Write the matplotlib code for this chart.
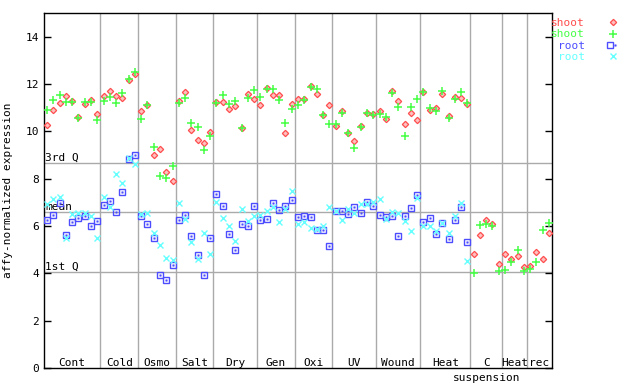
import numpy as np
import matplotlib
matplotlib.use("Agg")
import matplotlib.pyplot as plt
from matplotlib.legend_handler import HandlerTuple

plt.rcParams['font.family'] = ['DejaVu Sans Mono']

# grupos de condiciones y numero de muestras por grupo
grupos = ["Cont", "Cold", "Osmo", "Salt", "Dry", "Gen", "Oxi", "UV", "Wound", "Heat", "C", "Heat", "rec"]
n_muestras = [9, 6, 6, 6, 7, 6, 6, 7, 7, 8, 5, 4, 4]

# shoot (rojo)
shoot1 = [10.27, 10.90, 11.21, 11.51, 11.27, 10.60, 11.17, 11.31, 10.74,
          11.51, 11.70, 11.51, 11.41, 12.17, 12.42,
          10.86, 11.11, 9.00, 9.25, 8.28, 7.90,
          11.28, 11.66, 10.05, 9.63, 9.50, 9.98,
          11.24, 11.24, 10.94, 11.07, 10.14, 11.59, 11.37,
          11.11, 11.84, 11.54, 11.54, 9.93, 11.15,
          11.37, 11.37, 11.90, 11.57, 10.69, 11.11,
          10.22, 10.86, 9.93, 9.59, 10.22, 10.77, 10.73,
          10.86, 10.52, 11.70, 11.28, 10.31, 10.77, 10.48,
          11.66, 10.90, 10.98, 11.57, 10.65, 11.45, 11.41, 11.15,
          4.81, 5.61, 6.25, 6.08, 4.39,
          4.81, 4.60, 4.72, 4.26,
          4.30, 4.89, 4.60, 5.70]

# shoot (verde)
shoot2 = [10.90, 11.32, 11.55, 11.24, 11.22, 10.58, 11.24, 11.24, 10.48,
          11.28, 11.45, 11.21, 11.62, 12.20, 12.51,
          10.52, 11.11, 9.33, 8.11, 8.02, 8.53,
          11.21, 11.41, 10.36, 10.17, 9.21, 9.80,
          11.21, 11.54, 11.15, 11.28, 10.14, 11.41, 11.75,
          11.45, 11.80, 11.77, 11.32, 10.35, 10.94,
          11.11, 11.32, 11.87, 11.79, 10.69, 10.31,
          10.31, 10.77, 9.93, 9.29, 10.18, 10.77, 10.69,
          10.73, 10.60, 11.62, 11.03, 9.80, 11.03, 11.37,
          11.66, 10.98, 10.86, 11.70, 10.56, 11.37, 11.66, 11.20,
          4.01, 6.04, 6.08, 5.99, 4.09,
          4.13, 4.47, 4.98, 4.09,
          4.17, 4.47, 5.82, 6.12]

# root (azul) - solo hasta Heat
root1 = [6.25, 6.46, 6.97, 5.61, 6.16, 6.35, 6.42, 5.99, 6.21,
         6.88, 7.05, 6.59, 7.43, 8.85, 9.00,
         6.42, 6.08, 5.49, 3.92, 3.71, 4.34,
         6.25, 6.46, 5.57, 4.77, 3.92, 5.49,
         7.35, 6.84, 5.66, 4.98, 6.08, 5.99, 6.84,
         6.25, 6.29, 6.97, 6.67, 6.84, 7.09,
         6.37, 6.42, 6.37, 5.84, 5.83, 5.15,
         6.63, 6.63, 6.50, 6.80, 6.54, 7.01, 6.84,
         6.46, 6.37, 6.42, 5.57, 6.42, 6.75, 7.30,
         6.16, 6.33, 5.66, 6.12, 5.44, 6.25, 6.80, 5.32]

# root (cian)
root2 = [6.92, 7.14, 7.22, 5.49, 6.50, 6.54, 6.54, 6.42, 5.49,
         7.23, 6.80, 8.19, 7.83, 8.88, 8.62,
         6.50, 6.54, 5.70, 5.19, 4.64, 4.56,
         6.97, 6.29, 5.32, 4.60, 5.70, 4.81,
         7.01, 6.33, 5.99, 5.36, 6.71, 6.21, 6.42,
         6.46, 6.63, 6.80, 6.16, 6.71, 7.47,
         6.08, 6.16, 5.91, 5.87, 5.99, 6.80,
         6.63, 6.25, 6.71, 6.54, 6.92, 6.92, 7.01,
         7.14, 6.29, 6.59, 6.54, 6.21, 5.78, 7.18,
         5.99, 5.99, 5.78, 6.12, 5.70, 6.42, 6.97, 4.51]

# lineas de cuartiles
cuartiles = {"3rd Q": 8.66, "mean": 6.59, "1st Q": 4.05}

rojo = '#ff4d4d'
verde = '#44ff44'
azul = '#4d4dff'
cian = '#66ffff'
gris = '#aaaaaa'

fig = plt.figure(figsize=(6.4, 3.84), dpi=100)
ax = fig.add_axes([44/640, 16/384, 508/640, 355/384])

x_shoot = np.arange(len(shoot1))
x_root = np.arange(len(root1))

# divisiones entre grupos
limites = np.cumsum(n_muestras)
for b in limites[:-1]:
    ax.axvline(b - 0.5, color=gris, lw=1, zorder=1)
for nombre, v in cuartiles.items():
    ax.axhline(v, color=gris, lw=1, zorder=1)
    ax.text(0.002, v, nombre, transform=ax.get_yaxis_transform(), fontsize=8,
            va='bottom', ha='left', zorder=2)

# puntos
h1, = ax.plot(x_shoot, shoot1, 'D', ls='none', ms=3.2, mec=rojo, mfc='#ffc0c0', mew=0.9, zorder=3)
h2, = ax.plot(x_shoot, shoot2, '+', ls='none', ms=5.2, mec=verde, mew=1.1, zorder=3)
h3a, = ax.plot(x_root, root1, 's', ls='none', ms=4.4, mec=azul, mfc='none', mew=1, zorder=3)
h3b, = ax.plot(x_root, root1, 's', ls='none', ms=1.1, mec=azul, mfc=azul, mew=0.3, zorder=3)
h4, = ax.plot(x_root, root2, 'x', ls='none', ms=4.4, mec=cian, mew=1, zorder=3)

# etiquetas de grupos
inicio = np.concatenate([[0], limites[:-1]])
for nombre, a, n in zip(grupos, inicio, n_muestras):
    centro = a + (n - 1) / 2
    ax.text(centro, 0.22, nombre, fontsize=8, ha='center', va='center')
    if nombre == "C":
        ax.text(centro, -0.42, "suspension", fontsize=8, ha='center', va='center', clip_on=False)

ax.set_xlim(-0.5, len(shoot1) - 0.5)
ax.set_ylim(0, 15)
ax.set_yticks(range(0, 15, 2))
ax.set_xticks([])
ax.tick_params(axis='y', direction='in', length=5, right=True, labelsize=8, width=1)
ax.set_ylabel("affy-normalized expression", fontsize=8, labelpad=9)
for s in ax.spines.values():
    s.set_linewidth(1)

leg = ax.legend([h1, h2, (h3a, h3b), h4], ["shoot", "shoot", "root", "root"],
                handler_map={tuple: HandlerTuple(ndivide=None, pad=0)},
                loc='upper left', bbox_to_anchor=(0.998, 0.985), frameon=False,
                markerfirst=False, fontsize=8, labelspacing=0.1, handlelength=1,
                handletextpad=2.0, borderaxespad=0, borderpad=0)
for t, c in zip(leg.get_texts(), [rojo, verde, azul, cian]):
    t.set_color(c)

fig.savefig("out.png", dpi=100)
